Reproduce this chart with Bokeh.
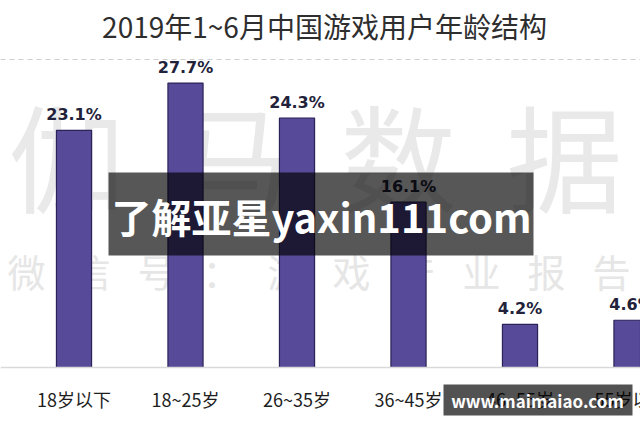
from bokeh.plotting import figure
from bokeh.models import Span, BoxAnnotation, Label, FixedTicker, Range1d
from bokeh.core.properties import value
from bokeh.embed import file_html
from bokeh.resources import INLINE

# ---- data ----
categories = ["18岁以下", "18~25岁", "26~35岁", "36~45岁", "46~55岁", "55岁以上"]
shares = [23.1, 27.7, 24.3, 16.1, 4.2, 4.6]
share_labels = ["23.1%", "27.7%", "24.3%", "16.1%", "4.2%", "4.6%"]
title_text = "2019年1~6月中国游戏用户年龄结构"
grid_values = [30]
watermark_big = ["伽", "马", "数", "据"]
watermark_small = ["微", "信", "号", "：", "游", "戏", "产", "业", "报", "告"]
overlay_text = "了解亚星yaxin111com"
corner_text = "www.maimaiao.com"

# ---- layout (pixels in the canvas) ----
W, H = 640, 427
X0_PX, STEP_PX = 73.5, 111.5      # pixel centre of first category, spacing
BASE_PX, UNIT_PX = 367.0, 10.267  # pixel of 0 %, pixels per 1 %

def sx(px):
    return (px - X0_PX) / STEP_PX

def sy(py):
    return (BASE_PX - py) / UNIT_PX

idx = list(range(len(categories)))

p = figure(width=W, height=H, output_backend="svg", toolbar_location=None,
           x_range=Range1d(sx(0), sx(W)), y_range=Range1d(sy(H), sy(0)),
           min_border=0, min_border_left=0, min_border_right=0,
           min_border_top=0, min_border_bottom=0)
p.outline_line_color = None
p.background_fill_color = "white"
p.border_fill_color = "white"
p.xaxis.visible = False
p.yaxis.visible = False
p.xgrid.visible = False
p.ygrid.ticker = FixedTicker(ticks=grid_values)
p.ygrid.grid_line_color = "#cfcfcf"
p.ygrid.grid_line_dash = "5 4"
p.ygrid.grid_line_width = 1

# faint background watermark
p.text(x=[sx(66 + 166 * i) for i in range(len(watermark_big))],
       y=[sy(152)] * len(watermark_big), text=watermark_big,
       text_font=value("Noto Sans CJK SC"), text_font_size="116px",
       text_color="#e9e9e9", text_align="center", text_baseline="middle")
p.text(x=[sx(26 + 65 * i) for i in range(len(watermark_small))],
       y=[sy(270)] * len(watermark_small), text=watermark_small,
       text_font=value("Noto Sans CJK SC"), text_font_size="38px",
       text_color="#e6e6e6", text_align="center", text_baseline="middle")

p.add_layout(Span(location=0, dimension="width", line_color="#d9d9d9", line_width=1.5))

p.vbar(x=idx, top=shares, bottom=0, width=0.315,
       fill_color="#574a98", line_color="#2b2358", line_width=1.2)

p.text(x=idx, y=shares, text=share_labels, y_offset=-16,
       text_font=value("DejaVu Sans"), text_font_style="bold",
       text_font_size="16px", text_color="#22223a",
       text_align="center", text_baseline="alphabetic")

p.text(x=idx, y=[sy(398)] * len(idx), text=categories,
       text_font=value("Noto Sans CJK SC"), text_font_size="18px",
       text_color="#1e1e1e", text_align="center", text_baseline="middle")

p.add_layout(Label(x=sx(324), y=sy(25), text=title_text,
                   text_font="Noto Sans CJK SC", text_font_size="28px",
                   text_color="#2e2e2e", text_align="center", text_baseline="middle"))

# overlay bands
p.add_layout(BoxAnnotation(left=sx(108), right=sx(533), top=sy(172), bottom=sy(255),
                           fill_color="black", fill_alpha=0.66, line_alpha=0))
p.add_layout(Label(x=sx(321), y=sy(215), text=overlay_text,
                   text_font="Noto Sans CJK SC", text_font_style="bold",
                   text_font_size="40px", text_color="white",
                   text_align="center", text_baseline="middle"))
p.add_layout(BoxAnnotation(left=sx(443), right=sx(632), top=sy(384), bottom=sy(415),
                           fill_color="black", fill_alpha=0.68, line_alpha=0))
p.add_layout(Label(x=sx(537), y=sy(399.5), text=corner_text,
                   text_font="Noto Sans CJK SC", text_font_style="bold",
                   text_font_size="17px", text_color="white",
                   text_align="center", text_baseline="middle"))

open("out.html", "w").write(file_html(p, INLINE))
